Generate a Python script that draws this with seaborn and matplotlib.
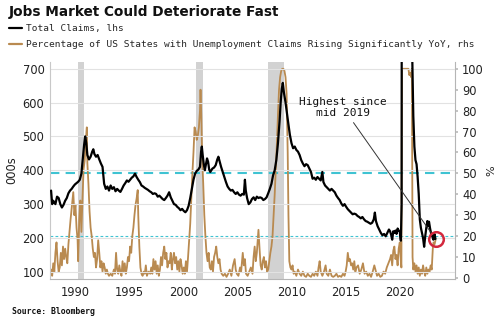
import matplotlib
matplotlib.use("Agg")
import matplotlib.pyplot as plt
from matplotlib.lines import Line2D
import seaborn as sns
import pandas as pd

# ---------------- data ----------------
claims_year = [1987.8, 1987.9, 1988.0, 1988.2, 1988.35, 1988.5, 1988.65, 1988.8, 1988.95, 1989.1,
               1989.25, 1989.4, 1989.55, 1989.7, 1989.85, 1990.0, 1990.15, 1990.3, 1990.45, 1990.6,
               1990.75, 1990.85, 1990.95, 1991.05, 1991.15, 1991.3, 1991.45, 1991.6, 1991.7, 1991.8,
               1991.95, 1992.1, 1992.25, 1992.4, 1992.55, 1992.7, 1992.85, 1993.0, 1993.15, 1993.3,
               1993.45, 1993.6, 1993.75, 1993.9, 1994.05, 1994.2, 1994.35, 1994.5, 1994.65, 1994.8,
               1994.95, 1995.1, 1995.25, 1995.4, 1995.55, 1995.7, 1995.85, 1996.0, 1996.15, 1996.3,
               1996.45, 1996.6, 1996.75, 1996.9, 1997.05, 1997.2, 1997.35, 1997.5, 1997.65, 1997.8,
               1997.95, 1998.1, 1998.25, 1998.4, 1998.55, 1998.7, 1998.85, 1999.0, 1999.15, 1999.3,
               1999.45, 1999.6, 1999.75, 1999.9, 2000.05, 2000.2, 2000.35, 2000.5, 2000.65, 2000.8,
               2000.95, 2001.1, 2001.25, 2001.4, 2001.55, 2001.65, 2001.72, 2001.8, 2001.9, 2002.0,
               2002.1, 2002.2, 2002.3, 2002.4, 2002.5, 2002.6, 2002.7, 2002.85, 2003.0, 2003.15,
               2003.25, 2003.35, 2003.5, 2003.65, 2003.8, 2003.95, 2004.1, 2004.25, 2004.4, 2004.55,
               2004.7, 2004.85, 2005.0, 2005.15, 2005.3, 2005.45, 2005.6, 2005.7, 2005.78, 2005.9,
               2006.05, 2006.2, 2006.35, 2006.5, 2006.65, 2006.8, 2006.95, 2007.1, 2007.25, 2007.4,
               2007.55, 2007.7, 2007.85, 2008.0, 2008.15, 2008.3, 2008.45, 2008.6, 2008.75, 2008.9,
               2009.0, 2009.1, 2009.2, 2009.3, 2009.45, 2009.55, 2009.7, 2009.85, 2010.0, 2010.15,
               2010.3, 2010.45, 2010.6, 2010.75, 2010.9, 2011.05, 2011.2, 2011.35, 2011.5, 2011.65,
               2011.8, 2011.95, 2012.1, 2012.25, 2012.4, 2012.55, 2012.7, 2012.85, 2012.95, 2013.1,
               2013.25, 2013.4, 2013.55, 2013.7, 2013.85, 2014.0, 2014.15, 2014.3, 2014.45, 2014.6,
               2014.75, 2014.9, 2015.05, 2015.2, 2015.35, 2015.5, 2015.65, 2015.8, 2015.95, 2016.1,
               2016.25, 2016.4, 2016.55, 2016.7, 2016.85, 2017.0, 2017.15, 2017.3, 2017.45, 2017.6,
               2017.7, 2017.8, 2017.95, 2018.1, 2018.25, 2018.4, 2018.55, 2018.7, 2018.85, 2019.0,
               2019.1, 2019.2, 2019.3, 2019.4, 2019.5, 2019.6, 2019.7, 2019.8, 2019.9, 2020.0,
               2020.1, 2020.17, 2020.22, 2020.3, 2020.45, 2020.6, 2020.8, 2020.95, 2021.1, 2021.15,
               2021.25, 2021.35, 2021.45, 2021.55, 2021.65, 2021.75, 2021.85, 2021.95, 2022.05, 2022.15,
               2022.25, 2022.35, 2022.45, 2022.55, 2022.62, 2022.7, 2022.8, 2022.9, 2023.0, 2023.1,
               2023.2, 2023.3]
claims_k = [340, 300, 310, 300, 322, 318, 300, 290, 298, 310,
            318, 332, 340, 345, 352, 358, 362, 366, 372, 390,
            440, 475, 500, 480, 445, 432, 440, 455, 462, 448,
            440, 445, 432, 420, 410, 360, 345, 352, 340, 355,
            345, 350, 338, 345, 340, 336, 345, 355, 362, 370,
            366, 372, 378, 382, 390, 380, 372, 365, 355, 352,
            348, 345, 342, 338, 335, 330, 332, 330, 322, 325,
            320, 315, 312, 318, 325, 335, 320, 310, 300, 298,
            292, 288, 282, 286, 280, 276, 282, 295, 318, 345,
            372, 390, 398, 402, 410, 455, 470, 445, 418, 400,
            418, 435, 425, 402, 395, 400, 405, 408, 415, 432,
            440, 428, 410, 395, 380, 365, 352, 345, 340, 342,
            335, 330, 335, 328, 325, 330, 328, 372, 340, 318,
            300, 305, 315, 320, 312, 322, 318, 320, 318, 312,
            315, 320, 332, 345, 360, 385, 400, 430, 480, 545,
            600, 640, 658, 630, 600, 575, 540, 505, 480, 465,
            470, 460, 455, 445, 430, 420, 412, 418, 415, 405,
            395, 375, 378, 372, 380, 375, 370, 395, 365, 355,
            350, 345, 340, 345, 340, 335, 325, 318, 312, 302,
            295, 300, 292, 285, 280, 275, 270, 272, 270, 265,
            262, 258, 262, 255, 250, 248, 245, 242, 245, 255,
            275, 250, 235, 225, 215, 208, 212, 205, 215, 225,
            220, 210, 195, 220, 215, 222, 212, 228, 222, 218,
            192, 300, 3000, 2000, 1400, 1100, 850, 800, 760, 740,
            560, 470, 430, 418, 380, 330, 255, 230, 215, 200,
            174, 205, 230, 250, 235, 248, 228, 212, 205, 195,
            212, 197]

pct_year = [1987.8, 1987.9, 1988.0, 1988.1, 1988.2, 1988.3, 1988.4, 1988.5, 1988.6, 1988.7,
            1988.8, 1988.9, 1989.0, 1989.1, 1989.2, 1989.3, 1989.4, 1989.5, 1989.6, 1989.7,
            1989.8, 1989.85, 1989.95, 1990.05, 1990.15, 1990.25, 1990.3, 1990.4, 1990.5, 1990.6,
            1990.7, 1990.8, 1990.9, 1991.0, 1991.1, 1991.15, 1991.25, 1991.35, 1991.45, 1991.55,
            1991.65, 1991.75, 1991.85, 1991.95, 1992.05, 1992.15, 1992.25, 1992.35, 1992.45, 1992.55,
            1992.65, 1992.75, 1992.85, 1992.95, 1993.05, 1993.15, 1993.3, 1993.45, 1993.6, 1993.7,
            1993.8, 1993.9, 1994.0, 1994.1, 1994.2, 1994.3, 1994.4, 1994.5, 1994.6, 1994.7,
            1994.8, 1994.9, 1995.0, 1995.1, 1995.2, 1995.3, 1995.4, 1995.5, 1995.6, 1995.7,
            1995.8, 1995.85, 1995.95, 1996.05, 1996.15, 1996.25, 1996.35, 1996.45, 1996.55, 1996.65,
            1996.8, 1996.95, 1997.05, 1997.15, 1997.25, 1997.35, 1997.45, 1997.55, 1997.65, 1997.75,
            1997.85, 1997.95, 1998.05, 1998.15, 1998.25, 1998.35, 1998.45, 1998.55, 1998.65, 1998.75,
            1998.85, 1998.95, 1999.05, 1999.15, 1999.25, 1999.35, 1999.45, 1999.55, 1999.65, 1999.75,
            1999.85, 1999.95, 2000.05, 2000.15, 2000.25, 2000.35, 2000.45, 2000.55, 2000.65, 2000.75,
            2000.85, 2000.95, 2001.05, 2001.15, 2001.25, 2001.35, 2001.45, 2001.55, 2001.6, 2001.67,
            2001.75, 2001.85, 2001.95, 2002.05, 2002.15, 2002.25, 2002.35, 2002.45, 2002.55, 2002.65,
            2002.75, 2002.85, 2002.95, 2003.05, 2003.15, 2003.25, 2003.35, 2003.45, 2003.55, 2003.7,
            2003.85, 2004.0, 2004.15, 2004.3, 2004.45, 2004.6, 2004.75, 2004.85, 2004.95, 2005.1,
            2005.25, 2005.35, 2005.5, 2005.6, 2005.7, 2005.8, 2005.95, 2006.1, 2006.25, 2006.4,
            2006.5, 2006.6, 2006.7, 2006.8, 2006.95, 2007.05, 2007.15, 2007.25, 2007.35, 2007.45,
            2007.55, 2007.65, 2007.75, 2007.85, 2007.95, 2008.05, 2008.15, 2008.25, 2008.35, 2008.45,
            2008.55, 2008.65, 2008.75, 2008.85, 2008.95, 2009.05, 2009.15, 2009.25, 2009.35, 2009.45,
            2009.55, 2009.65, 2009.72, 2009.8, 2009.9, 2010.0, 2010.1, 2010.2, 2010.3, 2010.45,
            2010.6, 2010.75, 2010.9, 2011.05, 2011.2, 2011.35, 2011.5, 2011.65, 2011.8, 2011.95,
            2012.1, 2012.25, 2012.4, 2012.5, 2012.6, 2012.7, 2012.85, 2013.0, 2013.15, 2013.25,
            2013.4, 2013.55, 2013.7, 2013.85, 2014.0, 2014.15, 2014.3, 2014.45, 2014.6, 2014.75,
            2014.9, 2015.0, 2015.1, 2015.2, 2015.3, 2015.4, 2015.5, 2015.6, 2015.7, 2015.8,
            2015.9, 2016.0, 2016.15, 2016.3, 2016.45, 2016.6, 2016.75, 2016.9, 2017.05, 2017.2,
            2017.35, 2017.5, 2017.65, 2017.75, 2017.9, 2018.05, 2018.2, 2018.35, 2018.5, 2018.65,
            2018.8, 2018.95, 2019.1, 2019.2, 2019.3, 2019.4, 2019.5, 2019.6, 2019.7, 2019.8,
            2019.9, 2020.0, 2020.1, 2020.15, 2020.2, 2020.4, 2020.6, 2020.8, 2020.88, 2020.95,
            2021.05, 2021.12, 2021.18, 2021.25, 2021.35, 2021.45, 2021.55, 2021.65, 2021.75, 2021.85,
            2021.95, 2022.05, 2022.15, 2022.25, 2022.35, 2022.45, 2022.55, 2022.65, 2022.75, 2022.85,
            2022.95, 2023.05, 2023.12, 2023.2, 2023.3]
pct_value = [4, 1, 7, 3, 12, 17, 8, 3, 5, 12,
             6, 15, 9, 14, 10, 7, 16, 22, 28, 33,
             38, 41, 30, 35, 24, 18, 8, 28, 37, 22,
             38, 52, 56, 65, 72, 55, 45, 32, 24, 20,
             14, 10, 12, 5, 9, 18, 12, 5, 8, 3,
             7, 5, 2, 4, 2, 1, 2, 1, 4, 2,
             12, 4, 2, 6, 3, 1, 8, 3, 7, 2,
             5, 10, 8, 15, 12, 20, 24, 30, 35, 38,
             42, 30, 15, 5, 2, 1, 3, 2, 6, 1,
             3, 2, 5, 2, 9, 4, 8, 2, 6, 1,
             4, 10, 6, 12, 15, 9, 12, 5, 8, 7,
             12, 4, 9, 12, 7, 10, 4, 8, 3, 9,
             6, 2, 5, 2, 8, 3, 10, 18, 26, 38,
             50, 60, 72, 70, 66, 68, 72, 80, 90, 78,
             58, 45, 30, 20, 12, 8, 12, 5, 4, 8,
             3, 10, 12, 15, 10, 7, 9, 4, 2, 1,
             2, 0.5, 2, 4, 1, 6, 9, 4, 2, 1,
             5, 3, 12, 6, 9, 2, 1, 3, 5, 2,
             10, 15, 8, 12, 23, 14, 6, 4, 8, 10,
             5, 8, 3, 4, 8, 12, 15, 20, 30, 40,
             52, 64, 78, 90, 96, 99, 100, 100, 99, 96,
             88, 60, 30, 8, 5, 4, 6, 2, 3, 1,
             4, 2, 1, 3, 1, 0.5, 2, 1, 0.5, 2,
             1, 3, 1, 5, 8, 3, 1, 3, 6, 2,
             1, 4, 1, 0.5, 1, 2, 0.5, 1, 0.5, 2,
             1, 3, 6, 12, 8, 9, 6, 7, 4, 8,
             3, 5, 6, 2, 4, 7, 2, 3, 1, 2,
             0.5, 3, 6, 4, 1, 2, 0.5, 1, 3, 2,
             5, 7, 9, 11, 6, 13, 15, 9, 11, 6,
             14, 17, 8, 5, 100, 100, 100, 100, 97, 98,
             96, 100, 10, 4, 7, 3, 6, 2, 5, 1,
             4, 2, 6, 3, 1, 5, 2, 4, 3, 6,
             4, 14, 17, 16, 18]

recession_start = [1990.25, 2001.2, 2007.8]
recession_end = [1990.8, 2001.8, 2009.3]

left_ticks = [100, 200, 300, 400, 500, 600, 700]
right_ticks = [0, 10, 20, 30, 40, 50, 60, 70, 80, 90, 100]
year_ticks = [1990, 1995, 2000, 2005, 2010, 2015, 2020]
right_reference_levels = [50, 20]

title = "Jobs Market Could Deteriorate Fast"
label_claims = "Total Claims, lhs"
label_pct = "Percentage of US States with Unemployment Claims Rising Significantly YoY, rhs"
annotation_text = "Highest since\nmid 2019"
source_text = "Source: Bloomberg"

# ---------------- style ----------------
sns.set_theme(style="white")
plt.rcParams["font.family"] = ["DejaVu Sans"]

BLACK = "#000000"
TAN = "#b98a50"
GRAY_BAND = "#d2d2d2"
CYAN = "#3fc3d2"
RED = "#d3283d"
TXT = "#222222"

df_claims = pd.DataFrame({"year": claims_year, "claims": claims_k})
df_pct = pd.DataFrame({"year": pct_year, "pct": pct_value})

fig = plt.figure(figsize=(5.0, 3.24), dpi=100)
fig.patch.set_facecolor("white")
ax = fig.add_axes([0.10, 0.139, 0.81, 0.670])
ax2 = ax.twinx()
ax.set_zorder(ax2.get_zorder() + 1)
ax.patch.set_visible(False)
ax2.patch.set_visible(True)
ax2.patch.set_facecolor("white")

# recession bands
for s, e in zip(recession_start, recession_end):
    ax2.axvspan(s, e, color=GRAY_BAND, lw=0, zorder=0)

# reference lines on rhs
ax2.axhline(right_reference_levels[0], color=CYAN, lw=1.5, ls=(0, (4.5, 3)), zorder=1)
ax2.axhline(right_reference_levels[1], color=CYAN, lw=0.8, ls=(0, (2.5, 2)), zorder=1)

sns.lineplot(data=df_pct, x="year", y="pct", ax=ax2, color=TAN, lw=1.3, zorder=2)
sns.lineplot(data=df_claims, x="year", y="claims", ax=ax, color=BLACK, lw=1.6, zorder=3)

# highlight last point
ax.plot([claims_year[-1]], [claims_k[-1]], marker="o", ms=10.5, mfc="none",
        mec=RED, mew=1.8, zorder=4)

ax.annotate(annotation_text, xy=(claims_year[-1], claims_k[-1]), xytext=(2014.75, 585),
            ha="center", va="center", fontsize=8, family="DejaVu Sans Mono",
            linespacing=1.15, color="#111111",
            arrowprops=dict(arrowstyle="-", color="#333333", lw=0.7, shrinkA=1, shrinkB=5.5))

# limits & ticks
ax.set_xlim(1987.7, 2025.1)
ax.set_ylim(79, 720)
ax2.set_ylim(-0.5, 103.3)
ax.set_yticks(left_ticks)
ax2.set_yticks(right_ticks)
ax.set_xticks(year_ticks)
ax.yaxis.grid(True, color="#e2e2e2", lw=0.8)
ax.xaxis.grid(False)
ax2.grid(False)

ax.tick_params(axis="y", labelsize=8.3, colors=TXT, length=0, pad=4)
ax.tick_params(axis="x", labelsize=8.3, colors=TXT, length=0, pad=5)
ax2.tick_params(axis="y", labelsize=8.3, colors=TXT, length=2, pad=3, color="#bbbbbb")

ax.set_xlabel("")
ax.set_ylabel("000s", fontsize=8.3, color=TXT, labelpad=3)
ax2.set_ylabel("%", fontsize=8, color=TXT, rotation=90, labelpad=2)

for sp in ["top", "right"]:
    ax.spines[sp].set_visible(False)
ax.spines["left"].set_color("#c8c8c8")
ax.spines["bottom"].set_color("#b5b5b5")
for sp in ["top", "left", "bottom"]:
    ax2.spines[sp].set_visible(False)
ax2.spines["right"].set_color("#b5b5b5")
for sp in ax.spines.values():
    sp.set_linewidth(0.8)
ax2.spines["right"].set_linewidth(0.8)

# legend
handles = [Line2D([], [], color=BLACK, lw=1.6), Line2D([], [], color=TAN, lw=1.6)]
fig.legend(handles, [label_claims, label_pct], loc="upper left",
           bbox_to_anchor=(0.018, 0.925), frameon=False, borderpad=0, borderaxespad=0,
           handlelength=1.4, handletextpad=0.35, labelspacing=0.7,
           prop={"family": "DejaVu Sans Mono", "size": 6.8})

fig.text(0.018, 1 - 12 / 324, title, fontsize=9.8, fontweight="bold", va="center", color="#111111")
fig.text(0.024, 1 - 312 / 324, source_text, fontsize=5.9, fontweight="bold",
         family="DejaVu Sans Mono", va="center", color="#111111")

fig.savefig("out.png", dpi=100, facecolor="white")
